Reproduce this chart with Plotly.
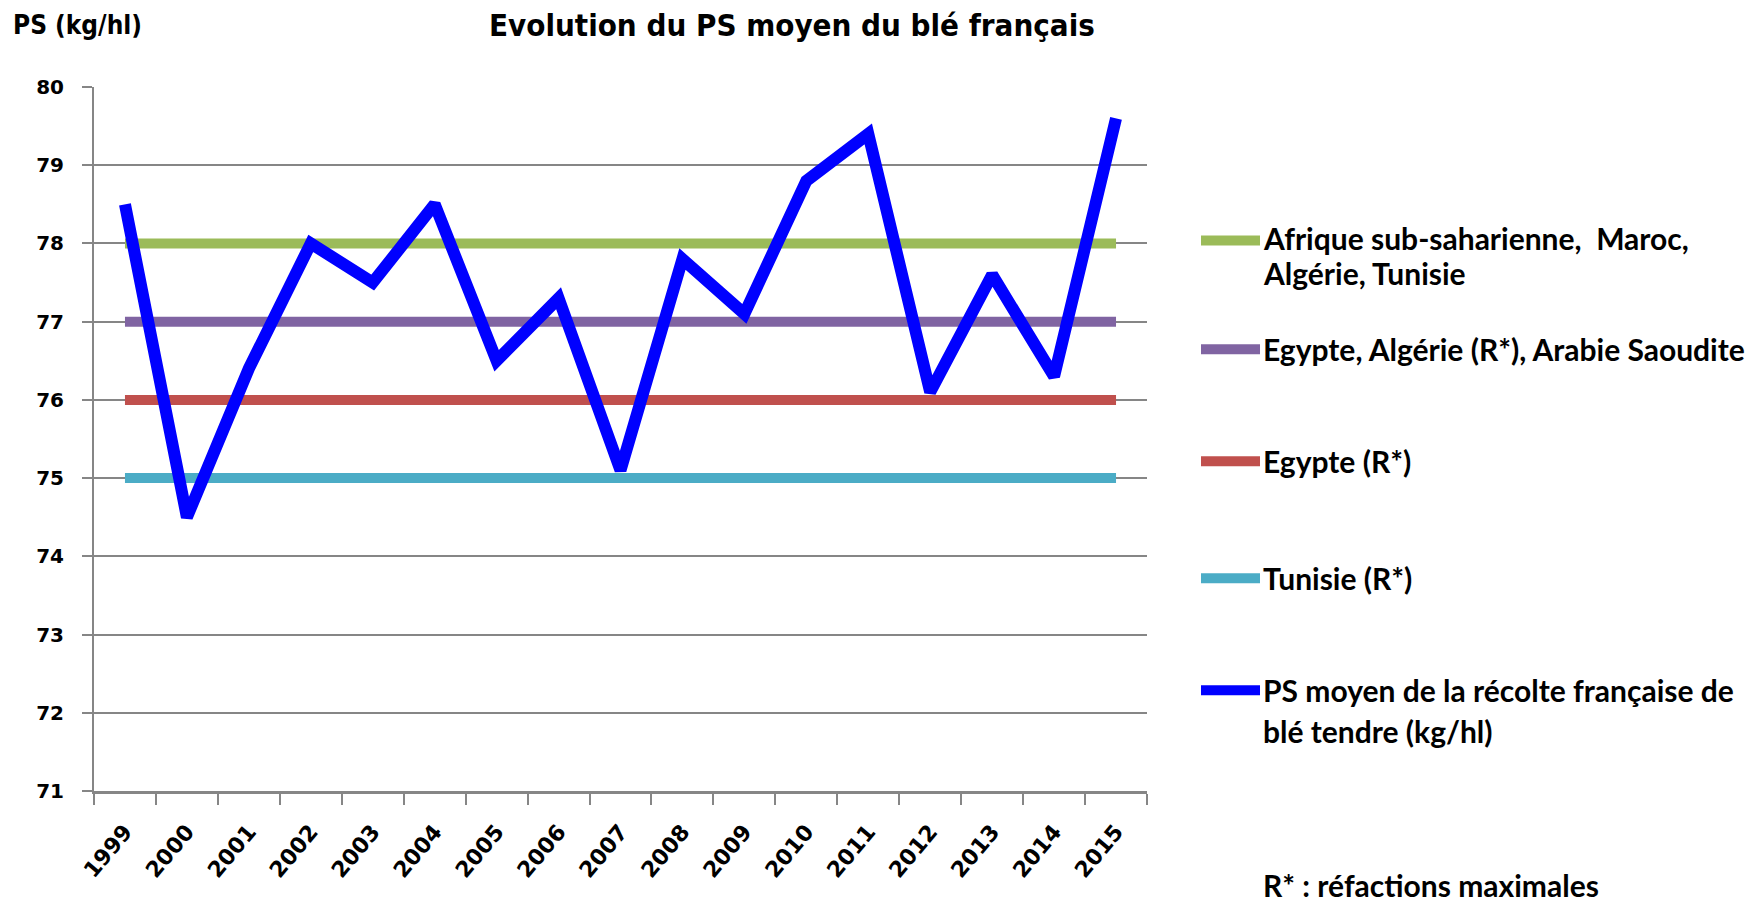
import plotly.graph_objects as go

# ---- data ----
years = ["1999", "2000", "2001", "2002", "2003", "2004", "2005", "2006", "2007",
         "2008", "2009", "2010", "2011", "2012", "2013", "2014", "2015"]
ps_moyen = [78.5, 74.5, 76.4, 78.0, 77.5, 78.5, 76.5, 77.3, 75.1,
            77.8, 77.1, 78.8, 79.4, 76.1, 77.6, 76.3, 79.6]

ref_names = ["Afrique sub-saharienne,  Maroc, Algérie, Tunisie",
             "Egypte, Algérie (R*), Arabie Saoudite",
             "Egypte (R*)",
             "Tunisie (R*)"]
ref_label_lines = [["Afrique sub-saharienne,  Maroc,", "Algérie, Tunisie"],
                   ["Egypte, Algérie (R*), Arabie Saoudite"],
                   ["Egypte (R*)"],
                   ["Tunisie (R*)"]]
ref_values = [78, 77, 76, 75]
ref_colors = ["#9BBB59", "#8064A2", "#C0504D", "#4BACC6"]

blue_name = "PS moyen de la récolte française de blé tendre (kg/hl)"
blue_label_lines = ["PS moyen de la récolte française de", "blé tendre (kg/hl)"]
blue_color = "#0000FF"

title_text = "Evolution du PS moyen du blé français"
yunit_text = "PS (kg/hl)"
note_text = "R* : réfactions maximales"
y_ticks = [71, 72, 73, 74, 75, 76, 77, 78, 79, 80]

# ---- layout geometry (pixels) ----
W, H = 1760, 905
L, R, T, B = 94, 1147, 86.5, 791
PW, PH = R - L, B - T


def px_x(px):
    return (px - L) / PW


def px_y(py):
    return (B - py) / PH


fig = go.Figure()

for name, val, col in zip(ref_names, ref_values, ref_colors):
    fig.add_trace(go.Scatter(
        x=[years[0], years[-1]], y=[val, val], mode="lines",
        line=dict(color=col, width=10), name=name, showlegend=False,
        hoverinfo="skip"))

fig.add_trace(go.Scatter(
    x=years, y=ps_moyen, mode="lines",
    line=dict(color=blue_color, width=12), name=blue_name,
    showlegend=False))

label_font = dict(family="Lato, Carlito, 'Open Sans', sans-serif", size=30,
                  color="black", weight="bold")

# manual legend (Excel-like layout): swatch y, text line ys
legend_items = [
    (ref_colors[0], ref_label_lines[0], 240, [238, 273]),
    (ref_colors[1], ref_label_lines[1], 349, [349]),
    (ref_colors[2], ref_label_lines[2], 461, [461]),
    (ref_colors[3], ref_label_lines[3], 578, [578]),
    (blue_color, blue_label_lines, 690.3, [690.3, 730.7]),
]
shapes = []
annotations = []
for col, lines, ly, tys in legend_items:
    shapes.append(dict(type="line", xref="paper", yref="paper",
                       x0=px_x(1201), x1=px_x(1260), y0=px_y(ly), y1=px_y(ly),
                       line=dict(color=col, width=10)))
    for txt, ty in zip(lines, tys):
        annotations.append(dict(xref="paper", yref="paper", x=px_x(1261),
                                y=px_y(ty), text=txt, showarrow=False,
                                xanchor="left", yanchor="middle", align="left",
                                font=label_font))

annotations.append(dict(xref="paper", yref="paper", x=px_x(1261), y=px_y(905),
                        text=note_text, showarrow=False, xanchor="left",
                        yanchor="bottom", font=label_font))

title_font = dict(family="'Liberation Sans Narrow', 'DejaVu Sans Condensed', Lato, sans-serif",
                  size=31, color="black", weight="bold")
annotations.append(dict(xref="paper", yref="paper", x=px_x(792), y=px_y(24),
                        text=title_text, showarrow=False, xanchor="center",
                        yanchor="middle", font=title_font))
annotations.append(dict(xref="paper", yref="paper", x=px_x(11), y=px_y(24),
                        text=yunit_text, showarrow=False, xanchor="left",
                        yanchor="middle",
                        font=dict(title_font, size=26)))

fig.update_layout(
    width=W, height=H,
    margin=dict(l=L, r=W - R, t=T, b=H - B, pad=0),
    paper_bgcolor="white", plot_bgcolor="white",
    shapes=shapes, annotations=annotations,
    showlegend=False,
)

fig.update_xaxes(
    type="category", categoryorder="array", categoryarray=years,
    range=[-0.5, len(years) - 0.5],
    showline=True, linecolor="#868686", linewidth=3,
    ticks="outside", tickson="boundaries", ticklen=11, tickwidth=2,
    tickcolor="#868686", tickangle=-50, showgrid=False,
    ticklabelstandoff=16,
    tickfont=dict(family="'DejaVu Sans', Verdana, sans-serif", size=22,
                  color="black", weight="bold"),
)
fig.update_yaxes(
    range=[71, 80], tickvals=y_ticks, ticktext=[str(v) for v in y_ticks],
    showline=True, linecolor="#868686", linewidth=2,
    showgrid=True, gridcolor="#868686", gridwidth=2,
    ticks="outside", ticklen=10, tickwidth=2, tickcolor="#868686",
    ticklabelstandoff=14, zeroline=False,
    tickfont=dict(family="'DejaVu Sans', Verdana, sans-serif", size=20,
                  color="black", weight="bold"),
)

fig.write_html("out.html", config={"displayModeBar": False},
               post_script="document.body.style.margin='0px';document.body.style.overflow='hidden';")
